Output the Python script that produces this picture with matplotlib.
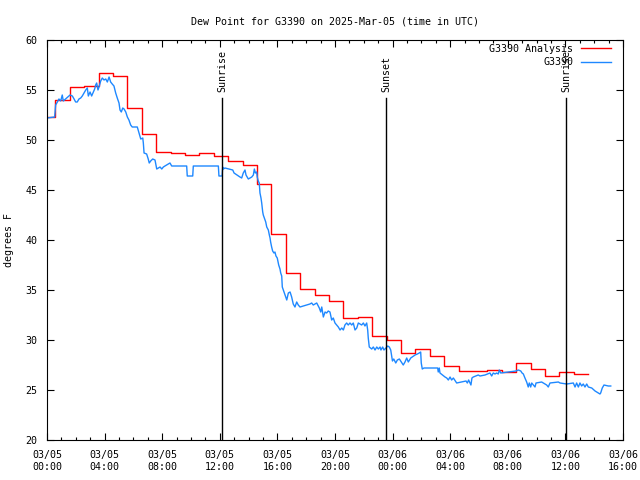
import matplotlib
matplotlib.use("Agg")
import matplotlib.pyplot as plt

# time in hours since 2025-03-05 00:00 UTC
BLUE_H = [0.0, 0.53, 0.60, 0.72, 0.83, 0.95, 1.06, 1.13, 1.60, 1.76, 1.88, 1.99, 2.10,
          2.22, 2.34, 2.45, 2.57, 2.69, 2.80, 2.87, 2.99, 3.10, 3.22, 3.31, 3.38, 3.45,
          3.54, 3.61, 3.73, 3.84, 3.96, 4.08, 4.19, 4.31, 4.42, 4.53, 4.65, 4.77, 4.88,
          5.00, 5.07, 5.16, 5.26, 5.35, 5.47, 5.58, 5.69, 5.81, 5.92, 6.27, 6.39, 6.51,
          6.65, 6.69, 6.74, 6.92, 7.03, 7.10, 7.20, 7.34, 7.50, 7.62, 7.73, 7.85, 7.97,
          8.08, 8.19, 8.54, 8.66, 9.70, 9.74, 10.12, 10.16, 11.90, 11.94, 12.16, 12.20,
          12.24, 12.36, 12.90, 12.99, 13.40, 13.52, 13.63, 13.75, 13.82, 13.98, 14.22,
          14.33, 14.40, 14.47, 14.56, 14.60, 14.67, 14.74, 14.79, 14.86, 14.91, 14.98,
          15.02, 15.09, 15.19, 15.26, 15.37, 15.44, 15.49, 15.53, 15.60, 15.67, 15.76,
          15.83, 15.90, 15.99, 16.09, 16.18, 16.23, 16.30, 16.34, 16.41, 16.48, 16.58,
          16.65, 16.76, 16.88, 16.99, 17.10, 17.22, 17.34, 17.45, 17.57, 18.26, 18.38,
          18.49, 18.73, 18.91, 19.01, 19.08, 19.19, 19.31, 19.42, 19.53, 19.65, 19.77,
          19.88, 20.00, 20.23, 20.35, 20.47, 20.58, 20.69, 20.81, 20.92, 21.04, 21.16,
          21.27, 21.39, 21.51, 21.62, 21.85, 21.97, 22.08, 22.20, 22.27, 22.31, 22.38,
          22.55, 22.66, 22.78, 22.90, 23.01, 23.13, 23.19, 23.31, 23.40, 23.54, 23.66,
          23.77, 23.87, 23.99, 24.08, 24.22, 24.33, 24.47, 24.74, 24.86, 24.98, 25.09,
          25.26, 25.56, 25.72, 25.85, 25.95, 25.99, 26.06, 26.18, 27.13, 27.17, 27.24,
          27.29, 27.64, 27.76, 27.87, 27.99, 28.10, 28.22, 28.45, 29.10, 29.19, 29.28,
          29.38, 29.44, 29.51, 29.60, 29.95, 30.07, 30.42, 30.76, 30.88, 30.99, 31.11,
          31.23, 31.34, 31.41, 31.51, 32.57, 32.73, 32.90, 32.99, 33.08, 33.19, 33.31,
          33.42, 33.49, 33.59, 33.66, 33.89, 33.96, 34.35, 34.47, 34.70, 34.81, 34.93,
          35.51, 35.63, 36.09, 36.55, 36.67, 36.78, 36.90, 37.01, 37.13, 37.24, 37.36,
          37.48, 37.59, 37.83, 38.06, 38.29, 38.40, 38.45, 38.56, 38.68, 38.98, 39.15]
BLUE_F = [52.2, 52.3, 53.5, 53.8, 54.1, 53.9, 54.5, 53.9, 54.5, 54.4, 54.1, 53.8, 53.8,
          54.1, 54.2, 54.4, 54.7, 55.0, 55.2, 54.4, 54.8, 54.4, 54.8, 55.1, 55.5, 55.7,
          55.0, 55.3, 55.9, 56.2, 56.0, 56.1, 55.8, 56.3, 55.8, 55.6, 55.4, 54.7, 54.2,
          53.7, 53.0, 52.8, 53.2, 53.1, 52.8, 52.3, 52.0, 51.5, 51.3, 51.3, 50.7, 50.1,
          50.2, 49.7, 48.7, 48.6, 48.1, 47.7, 47.9, 48.1, 48.0, 47.1, 47.2, 47.3, 47.1,
          47.3, 47.4, 47.7, 47.4, 47.4, 46.4, 46.4, 47.4, 47.4, 46.4, 46.4, 47.3,
          47.1, 47.2, 47.0, 46.7, 46.3, 46.2, 46.7, 47.0, 46.5, 46.1, 46.3,
          46.5, 47.1, 46.7, 46.8, 46.3, 45.9, 45.7, 44.7, 44.2, 43.7, 42.8,
          42.5, 42.2, 41.8, 41.3, 41.0, 40.5, 40.2, 39.8, 39.3, 38.9, 38.7,
          38.8, 38.4, 38.2, 37.5, 37.1, 36.7, 36.4, 35.3, 35.0, 34.7, 34.3,
          34.0, 34.7, 34.8, 34.3, 33.6, 33.3, 33.8, 33.5, 33.3, 33.6, 33.7,
          33.5, 33.7, 33.2, 32.8, 33.3, 32.3, 32.8, 32.7, 32.9, 32.8, 32.0,
          32.2, 31.7, 31.3, 31.0, 31.2, 31.0, 31.5, 31.7, 31.5, 31.7, 31.5,
          31.7, 31.0, 31.2, 31.7, 31.5, 31.7, 31.4, 31.7, 31.0, 30.2, 29.3,
          29.1, 29.3, 29.0, 29.3, 29.1, 29.3, 29.0, 29.3, 29.0, 29.2, 29.4,
          29.3, 29.0, 27.9, 28.1, 27.7, 28.0, 28.1, 27.5, 27.8, 28.2, 27.8,
          28.2, 28.5, 28.6, 28.7, 28.8, 27.7, 27.1, 27.2, 27.2, 26.8, 27.2,
          26.7, 26.3, 26.2, 26.0, 26.3, 26.0, 26.2, 25.7, 25.9, 25.7, 26.0,
          25.7, 25.5, 26.2, 26.3, 26.5, 26.4, 26.5, 26.7, 26.4, 26.7, 26.6,
          26.7, 26.6, 27.0, 26.7, 26.9, 27.0, 26.9, 26.7, 26.6, 26.2, 25.8,
          25.3, 25.7, 25.3, 25.7, 25.3, 25.7, 25.8, 25.7, 25.5, 25.3, 25.7,
          25.8, 25.7, 25.6, 25.7, 25.3, 25.7, 25.3, 25.7, 25.4, 25.6, 25.3,
          25.6, 25.3, 25.2, 24.9, 24.7, 24.6, 24.7, 25.2, 25.5, 25.4, 25.4]

# hourly analysis (step changes)
RED_H = [0.0, 0.58, 1.58, 2.58, 3.58, 4.58, 5.58, 6.58, 7.58, 8.58, 9.58, 10.58,
         11.58, 12.58, 13.58, 14.58, 15.58, 16.58, 17.58, 18.58, 19.58, 20.58, 21.58,
         22.58, 23.58, 24.58, 25.58, 26.58, 27.58, 28.58, 29.58, 30.58, 31.58, 32.58,
         33.58, 34.58, 35.58, 36.58, 37.58]
RED_F = [52.3, 54.0, 55.3, 55.4, 56.7, 56.4, 53.2, 50.6, 48.8, 48.7, 48.5, 48.7,
         48.4, 47.9, 47.5, 45.6, 40.6, 36.7, 35.1, 34.5, 33.9, 32.2, 32.3,
         30.4, 30.0, 28.7, 29.1, 28.4, 27.4, 26.9, 26.9, 27.0, 26.8, 27.7,
         27.1, 26.4, 26.8, 26.6, 26.6]

SUN_H = [12.16, 23.54, 36.07]
SUN_LABELS = ["Sunrise", "Sunset", "Sunrise"]

XTICKS = [0, 4, 8, 12, 16, 20, 24, 28, 32, 36, 40]
XLABELS = ["03/05\n00:00", "03/05\n04:00", "03/05\n08:00", "03/05\n12:00",
           "03/05\n16:00", "03/05\n20:00", "03/06\n00:00", "03/06\n04:00",
           "03/06\n08:00", "03/06\n12:00", "03/06\n16:00"]

plt.rcParams["font.family"] = "DejaVu Sans Mono"
plt.rcParams["font.size"] = 7.2

fig = plt.figure(figsize=(6.4, 4.8), dpi=100)
ax = fig.add_axes([47 / 640, 40 / 480, 576 / 640, 400 / 480])

ax.step(RED_H, RED_F, where="post", color="#ff0000", lw=1.0, label="G3390 Analysis")
ax.plot(BLUE_H, BLUE_F, color="#1e88ff", lw=1.0, label="G3390")

for h, lab in zip(SUN_H, SUN_LABELS):
    ax.plot([h, h], [20, 54.2], color="black", lw=1.0)
    ax.text(h, 54.8, lab, rotation=90, ha="center", va="bottom")

ax.set_xlim(0, 40)
ax.set_ylim(20, 60)
ax.set_xticks(XTICKS)
ax.set_xticklabels(XLABELS, linespacing=1.3)
ax.set_xticks(range(0, 41), minor=True)
ax.set_yticks(range(20, 61, 5))
ax.tick_params(which="both", direction="in", top=True, right=True, width=0.8)
ax.tick_params(which="major", length=5, pad=7)
ax.tick_params(which="minor", length=2.5)
for s in ax.spines.values():
    s.set_linewidth(0.8)

ax.set_title("Dew Point for G3390 on 2025-Mar-05 (time in UTC)", fontsize=7.2, pad=11)
ax.set_ylabel("degrees F", labelpad=8)

ax.legend(loc="upper right", bbox_to_anchor=(0.995, 1.013), frameon=False,
          markerfirst=False, handlelength=3.0, handletextpad=0.8, labelspacing=0.35)

fig.savefig("out.png", dpi=100)
